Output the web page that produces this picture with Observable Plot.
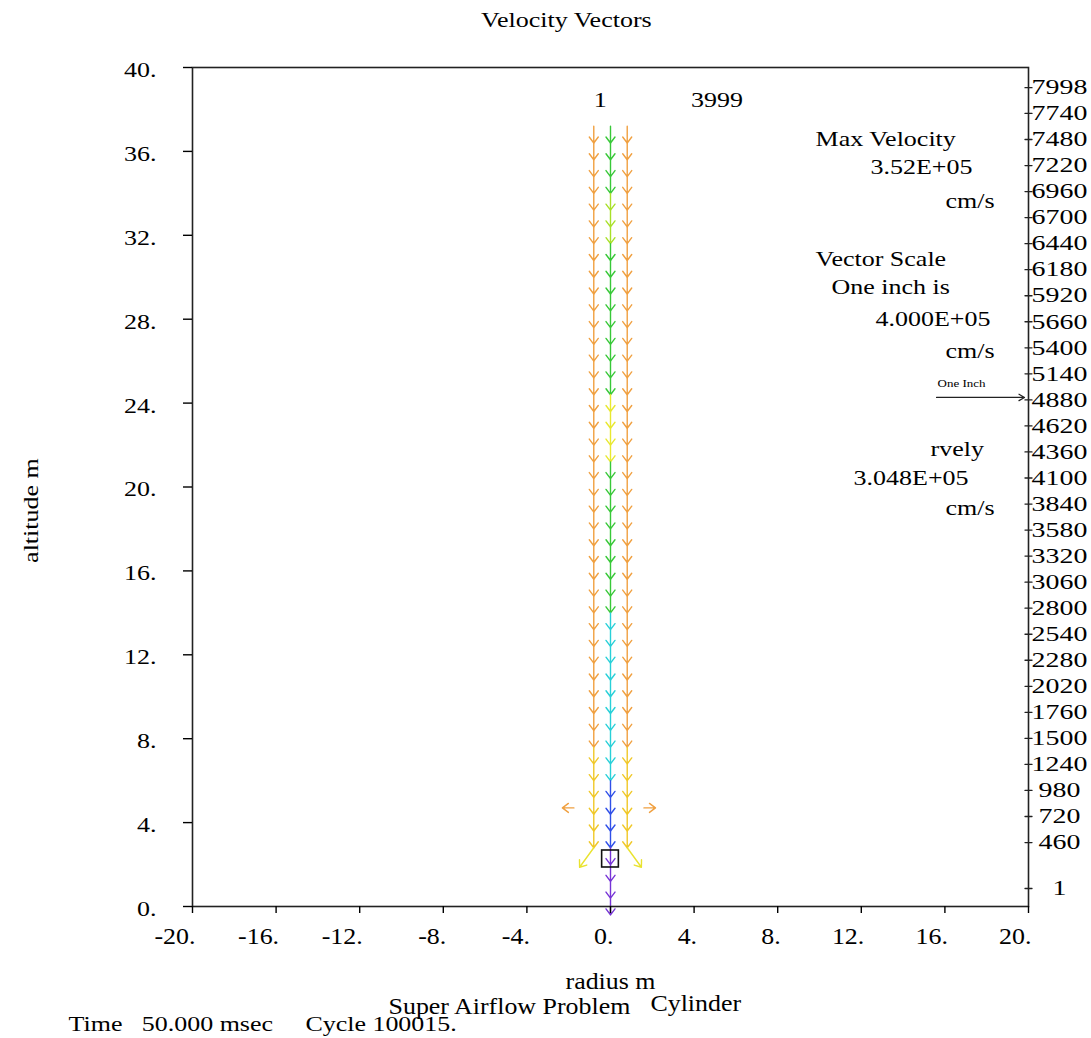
<!DOCTYPE html>
<html><head><meta charset="utf-8">
<script src="https://cdn.jsdelivr.net/npm/d3@7"></script>
<script src="https://cdn.jsdelivr.net/npm/@observablehq/plot@0.6"></script>
<style>html,body{margin:0;padding:0;background:#fff;overflow:hidden}#chart svg{display:block}</style>
</head><body><div id="chart"></div>
<script>
// ---------- data ----------
const radiusTicks = [-20, -16, -12, -8, -4, 0, 4, 8, 12, 16, 20];
const altitudeTicks = [0, 4, 8, 12, 16, 20, 24, 28, 32, 36, 40];
const colorLevels = [1, 460, 720, 980, 1240, 1500, 1760, 2020, 2280, 2540, 2800, 3060, 3320, 3580, 3840, 4100, 4360, 4620, 4880, 5140, 5400, 5660, 5920, 6180, 6440, 6700, 6960, 7220, 7480, 7740, 7998];

const columnRadius = [-0.8, 0, 0.8];
const tailAltitude = [37.2, 36.4, 35.6, 34.8, 34.0, 33.2, 32.4, 31.6, 30.8, 30.0, 29.2, 28.4, 27.6, 26.8, 26.0, 25.2, 24.4, 23.6, 22.8, 22.0, 21.2, 20.4, 19.6, 18.8, 18.0, 17.2, 16.4, 15.6, 14.8, 14.0, 13.2, 12.4, 11.6, 10.8, 10.0, 9.2, 8.4, 7.6, 6.8, 6.0, 5.2, 4.4, 3.6, 2.8, 2.0, 1.2, 0.4];
const vectorLength = 0.8; // m, each cell vector
const leftLevels = [6400, 6400, 6400, 6400, 6400, 6400, 6400, 6400, 6400, 6400, 6400, 6400, 6400, 6400, 6400, 6400, 6400, 6400, 6400, 6400, 6400, 6400, 6400, 6400, 6400, 6400, 6400, 6400, 6400, 6400, 6400, 6400, 6400, 6400, 6400, 6400, 6400, 5800, 5800, 5800, 5800, 5800, 5800];
const centerLevels = [4000, 4000, 4000, 4000, 4700, 4700, 4700, 4000, 4000, 4000, 4000, 4000, 4000, 4000, 4000, 4000, 5100, 5100, 5100, 5100, 4000, 4000, 4000, 4000, 4000, 4000, 4000, 4000, 4000, 3000, 3000, 3000, 3000, 3000, 3000, 3000, 3000, 3000, 3000, 1500, 1500, 1500, 1500, 400, 400, 400, 400];
const rightLevels = [6400, 6400, 6400, 6400, 6400, 6400, 6400, 6400, 6400, 6400, 6400, 6400, 6400, 6400, 6400, 6400, 6400, 6400, 6400, 6400, 6400, 6400, 6400, 6400, 6400, 6400, 6400, 6400, 6400, 6400, 6400, 6400, 6400, 6400, 6400, 6400, 6400, 5800, 5800, 5800, 5800, 5800, 5800];

// deflected vectors near the cylinder
const extraRadius = [-0.8, 0.8, -1.75, 1.6];
const extraAltitude = [2.8, 2.8, 4.7, 4.7];
const extraAngle = [216, 144, 270, 90];
const extraLength = [1.15, 1.15, 0.55, 0.55];
const extraLevel = [5200, 5200, 6400, 6400];

const cylinderRadius = [-0.4, 0.4];
const cylinderAltitude = [1.86, 2.67];

const noteText = ["1", "3999", "Max Velocity", "3.52E+05", "cm/s", "Vector Scale", "One inch is", "4.000E+05", "cm/s", "rvely", "3.048E+05", "cm/s"];
const noteRadius = [-0.8, 3.85, 9.81, 12.44, 16.03, 9.81, 10.57, 12.68, 16.03, 15.31, 11.63, 16.03];
const noteAltitude = [38.43, 38.43, 36.57, 35.23, 33.61, 30.85, 29.51, 27.99, 26.46, 21.79, 20.41, 18.97];

// ---------- build ----------
const W = 1091, H = 1038, mL = 192, mR = 63, mT = 67, mB = 132;
const pxPerMeter = (H - mT - mB) / 40;
const levelAlt = d3.scaleLinear().domain([460, 7998]).range([3.05, 39.04]);

const vectors = [];
[leftLevels, centerLevels, rightLevels].forEach((levels, c) => {
  levels.forEach((lv, k) => vectors.push({radius: columnRadius[c], altitude: tailAltitude[k], angle: 180, length: vectorLength, level: lv}));
});
extraRadius.forEach((r, i) => vectors.push({radius: r, altitude: extraAltitude[i], angle: extraAngle[i], length: extraLength[i], level: extraLevel[i]}));

const openArrow = {
  draw(ctx, l) {
    const w = 4.5, h = 6;
    ctx.moveTo(0, 0); ctx.lineTo(0, -l);
    ctx.moveTo(-w, h - l); ctx.lineTo(0, -l); ctx.lineTo(w, h - l);
  }
};
const tickShape = {draw(ctx, l) { ctx.moveTo(0, 0); ctx.lineTo(0, -l); }};
const notes = noteText.map((t, i) => ({t, x: noteRadius[i], y: noteAltitude[i]}));
const fmt = d => `${d}.`;

const chart = Plot.plot({
  width: W, height: H, marginLeft: mL, marginRight: mR, marginTop: mT, marginBottom: mB,
  style: {fontFamily: "'Liberation Serif', 'Times New Roman', serif", fontSize: "20px", background: "#fff", color: "#000"},
  x: {domain: [-20, 20], axis: null},
  y: {domain: [0, 40], axis: null},
  color: {type: "linear",
    domain: [1, 1500, 3000, 4000, 4700, 5100, 5800, 6400, 7998],
    range: ["#9028d0", "#3050e8", "#28d0d8", "#38c838", "#a8e028", "#e8e830", "#f0c828", "#f0a040", "#ff2000"]},
  length: {type: "linear", domain: [0, 1], range: [0, pxPerMeter]},
  marks: [
    Plot.vector(vectors, {x: "radius", y: "altitude", rotate: "angle", length: "length", anchor: "start", stroke: "level", strokeWidth: 1.4, shape: openArrow}),
    Plot.rect([0], {x1: cylinderRadius[0], x2: cylinderRadius[1], y1: cylinderAltitude[0], y2: cylinderAltitude[1], stroke: "#111", fill: "none", strokeWidth: 1.6}),
    Plot.frame({stroke: "#222", strokeWidth: 1.6}),
    // left axis
    Plot.axisY(altitudeTicks, {anchor: "left", tickSize: 9, fill: "none", label: null, strokeWidth: 1.4}),
    Plot.axisY(altitudeTicks, {anchor: "left", tickSize: 0, tickPadding: 36, dy: 3, tickFormat: fmt, label: null}),
    // bottom axis
    Plot.axisX(radiusTicks, {anchor: "bottom", tickSize: 7, fill: "none", label: null, strokeWidth: 1.4}),
    Plot.axisX(radiusTicks, {anchor: "bottom", tickSize: 0, tickPadding: 20, textAnchor: "end", dx: 3, tickFormat: fmt, label: null, fontSize: 24}),
    // right level axis
    Plot.vector(colorLevels, {y: d => levelAlt(d), frameAnchor: "right", rotate: 90, length: 7, anchor: "middle", shape: tickShape, stroke: "#222", strokeWidth: 1.3}),
    Plot.text(colorLevels, {y: d => levelAlt(d), frameAnchor: "right", dx: 31, text: d => String(d), textAnchor: "middle", fontSize: 21}),
    // annotations
    Plot.text(notes, {x: "x", y: "y", text: "t", textAnchor: "start"}),
    Plot.text(["One Inch"], {x: 15.65, y: 24.93, text: d => d, textAnchor: "start", fontSize: 10}),
    Plot.arrow([0], {x1: 15.6, x2: 19.81, y1: 24.27, y2: 24.27, stroke: "#222", strokeWidth: 1.2, headLength: 8}),
    Plot.text(["Velocity Vectors"], {x: -2.11, y: 42.24, text: d => d, textAnchor: "middle"}),
    Plot.text(["altitude m"], {x: -27.7, y: 18.88, text: d => d, rotate: -90, textAnchor: "middle"}),
    Plot.text(["radius m"], {x: 0, y: -3.55, text: d => d, textAnchor: "middle", fontSize: 24}),
    Plot.text(["Super Airflow Problem"], {x: -10.62, y: -4.77, text: d => d, textAnchor: "start", fontSize: 24}),
    Plot.text(["Cylinder"], {x: 1.91, y: -4.6, text: d => d, textAnchor: "start", fontSize: 24}),
    Plot.text(["Time\u00a0\u00a0\u00a050.000 msec\u00a0\u00a0\u00a0\u00a0\u00a0Cycle 100015."], {x: -25.93, y: -5.6, text: d => d, textAnchor: "start", fontSize: 22})
  ]
});
document.getElementById("chart").append(chart);

// widen the glyphs horizontally like the original raster output (stretch by font size)
const stretch = {10: 1.3, 20: 1.3, 21: 1.33, 22: 1.18, 24: 1.08};
chart.querySelectorAll("text").forEach(t => {
  const fs = Math.round(parseFloat(getComputedStyle(t).fontSize));
  const S = stretch[fs] || 1.3;
  const b = t.getBBox();
  const a = getComputedStyle(t).textAnchor;
  const cx = a === "middle" ? b.x + b.width / 2 : a === "end" ? b.x + b.width : b.x;
  const prev = t.getAttribute("transform") || "";
  t.setAttribute("transform", `${prev} translate(${cx},0) scale(${S},1) translate(${-cx},0)`);
});
</script>
</body></html>
